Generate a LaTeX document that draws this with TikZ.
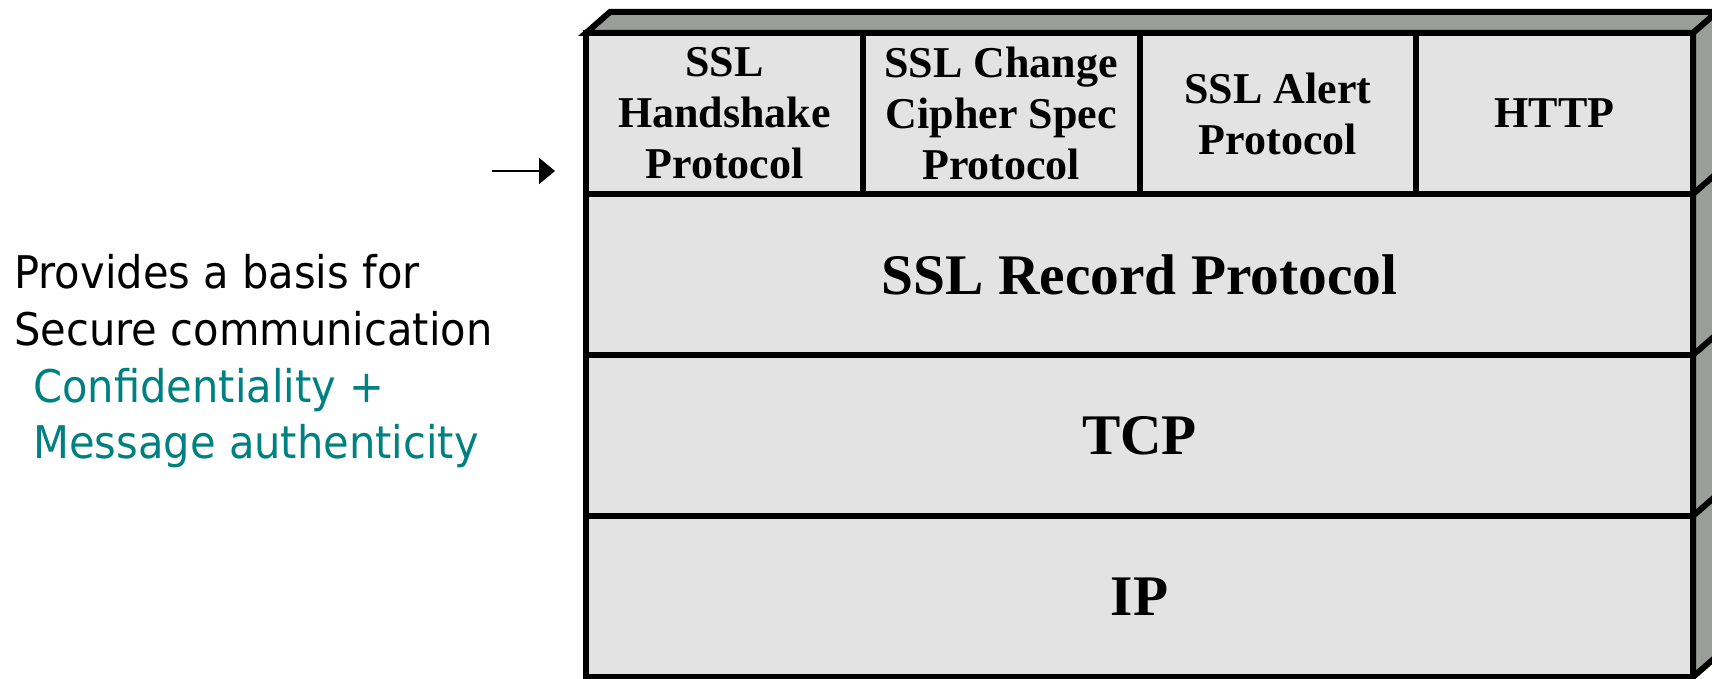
\documentclass[tikz,border=0pt]{standalone}
\usepackage{fontspec}
\setmainfont{Liberation Serif}
\newfontfamily\tahoma[FakeStretch=0.925]{DejaVu Sans}
\usetikzlibrary{arrows.meta}
\definecolor{facegray}{RGB}{227,227,227}
\definecolor{sidegray}{RGB}{155,157,155}
\definecolor{tealtext}{RGB}{0,128,128}
\begin{document}
\begin{tikzpicture}[x=0.5pt,y=-0.5pt,
  cell/.style={draw=black, line width=3pt, fill=facegray, inner sep=0pt, outer sep=0pt,
    minimum width=138.375pt, minimum height=80.5pt, anchor=north west, align=center,
    font=\bfseries\fontsize{22}{25.5}\selectfont},
  layer/.style={cell, minimum width=553.5pt, font=\bfseries\fontsize{28.7}{33}\selectfont},
  sideface/.style={draw=black, line width=3pt, fill=sidegray, line join=miter},
  edge3d/.style={draw=black, line width=3pt},
  note/.style={anchor=base west, inner sep=0pt, font=\tahoma\fontsize{22.5}{28.5}\selectfont},
  pointer/.style={-{Triangle[length=8pt,width=13pt]}, line width=1pt}
]
\useasboundingbox (0,0) rectangle (1712,679);
\clip (0,0) rectangle (1712,679);
% 3D top and right faces
\draw[sideface] (586,33) -- (610,12) -- (1717,12) -- (1693,33) -- cycle;
\draw[sideface] (1693,33) -- (1717,12) -- (1717,656) -- (1693,677) -- cycle;
\foreach \yy in {194,355,516}{
  \draw[edge3d] (1693,\yy) -- (1717,\yy-21);
}
% protocol cells
\node[cell] (hs)    at (586,33)     {SSL\\Handshake\\Protocol};
\node[cell] (ccs)   at (862.75,33)  {SSL Change\\Cipher Spec\\Protocol};
\node[cell] (alert) at (1139.5,33)  {SSL Alert\\Protocol};
\node[cell] (http)  at (1416.25,33) {HTTP};
\node[layer] (rec) at (586,194) {SSL Record Protocol};
\node[layer] (tcp) at (586,355) {TCP};
\node[layer] (ip)  at (586,516) {IP};
% pointer arrow
\coordinate (arrS) at (492,171);
\coordinate (arrE) at (555,171);
\draw[pointer] (arrS) -- (arrE);
% notes
\node[note] (n1) at (14,288) {Provides a basis for};
\node[note] (n2) at (14,345) {Secure communication};
\node[note, text=tealtext] (n3) at (33,402) {Confidentiality +};
\node[note, text=tealtext] (n4) at (33,458) {Message authenticity};
\end{tikzpicture}
\end{document}
